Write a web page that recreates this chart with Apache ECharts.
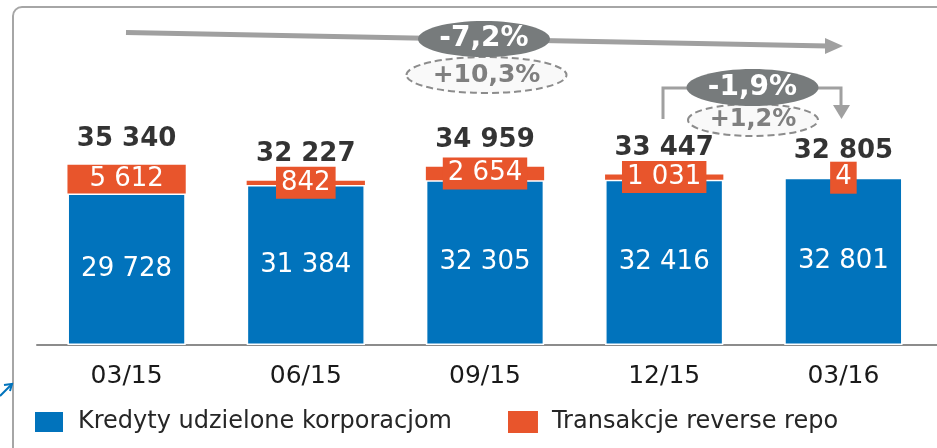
<!DOCTYPE html>
<html>
<head>
<meta charset="utf-8">
<script src="https://cdn.jsdelivr.net/npm/echarts@6/dist/echarts.min.js"></script>
<style>
  html, body { margin: 0; padding: 0; background: #fff; }
  #chart { width: 937px; height: 448px; }
</style>
</head>
<body>
<div id="chart"></div>
<script>
// dane z wykresu
var categories = ['03/15', '06/15', '09/15', '12/15', '03/16'];
var kredyty = [29728, 31384, 32305, 32416, 32801];
var repo = [5612, 842, 2654, 1031, 4];
var totals = [35340, 32227, 34959, 33447, 32805];
var seriesNames = ['Kredyty udzielone korporacjom', 'Transakcje reverse repo'];

var BLUE = '#0173bc';
var ORANGE = '#e8552c';
var GREY_LINE = '#a0a0a0';
var FONT = 'DejaVu Sans, Verdana, sans-serif';

function fmt(v) {
    // spacja jako separator tysiecy
    return String(v).replace(/\B(?=(\d{3})+(?!\d))/g, ' ');
}

var chart = echarts.init(document.getElementById('chart'));

// dla wysokich segmentow etykieta bez tla (mieści się w słupku)
var repoData = repo.map(function (v) {
    return {
        value: v,
        label: v * 255 / 50000 > 28 ? { backgroundColor: 'transparent' } : {}
    };
});

function badge(cx, cy, rx, ry, text, dashed, size) {
    return [{
        type: 'ellipse',
        shape: { cx: cx, cy: cy, rx: rx, ry: ry },
        style: dashed
            ? { fill: '#f9f9f9', stroke: '#8c8c8c', lineWidth: 2, lineDash: [7, 4] }
            : { fill: '#777b7c' },
        z: 10
    }, {
        type: 'text',
        x: cx, y: cy,
        style: {
            text: text, fill: dashed ? '#7f7f7f' : '#fff',
            font: 'bold ' + size + 'px ' + FONT,
            align: 'center', verticalAlign: 'middle'
        },
        z: 11
    }];
}

var graphics = [
    // ramka slajdu
    { type: 'rect', shape: { x: 13, y: 7, width: 940, height: 460, r: 9 },
      style: { fill: 'none', stroke: '#a6a6a6', lineWidth: 2 }, z: 1 },
    // przedluzenie osi do prawej krawedzi
    { type: 'line', shape: { x1: 930, y1: 345, x2: 937, y2: 345 },
      style: { stroke: '#8c8c8c', lineWidth: 2 }, z: 1 },
    // duza strzalka
    { type: 'line', shape: { x1: 126, y1: 32.5, x2: 828, y2: 46 },
      style: { stroke: GREY_LINE, lineWidth: 5 }, z: 5 },
    { type: 'polygon', shape: { points: [[825, 38], [843, 46], [825, 54]] },
      style: { fill: GREY_LINE }, z: 5 },
    // mala strzalka
    { type: 'polyline', shape: { points: [[663, 119], [663, 88], [700, 88]] },
      style: { stroke: GREY_LINE, lineWidth: 3, fill: null }, z: 5 },
    { type: 'polyline', shape: { points: [[805, 88], [841, 88], [841, 106]] },
      style: { stroke: GREY_LINE, lineWidth: 3, fill: null }, z: 5 },
    { type: 'polygon', shape: { points: [[833, 105], [850, 105], [841.5, 119]] },
      style: { fill: GREY_LINE }, z: 5 },
    // niebieski fragment przy lewej krawedzi
    { type: 'polyline', shape: { points: [[0, 396], [12, 384]] },
      style: { stroke: BLUE, lineWidth: 2, fill: null }, z: 5 },
    { type: 'polyline', shape: { points: [[4, 385], [12, 384], [10, 391]] },
      style: { stroke: BLUE, lineWidth: 2, fill: null }, z: 5 }
]
    .concat(badge(486.5, 75, 80, 18, '+10,3%', true, 25))
    .concat(badge(484, 39, 66, 18, '-7,2%', false, 28))
    .concat(badge(753, 120, 65, 16, '+1,2%', true, 24))
    .concat(badge(752.5, 87.5, 66, 18.5, '-1,9%', false, 28));

var option = {
    animation: false,
    textStyle: { fontFamily: FONT },
    color: [BLUE, ORANGE],
    grid: { left: 37, right: 4, top: 90, bottom: 103 },
    legend: {
        left: 28,
        top: 405,
        itemWidth: 30,
        itemHeight: 22,
        itemGap: 56,
        icon: 'rect',
        data: seriesNames,
        textStyle: { fontSize: 24, color: '#262626', padding: [0, 0, 0, 9] }
    },
    xAxis: {
        type: 'category',
        data: categories,
        axisLine: { lineStyle: { color: '#8c8c8c', width: 2 } },
        axisTick: { show: false },
        axisLabel: { fontSize: 25, color: '#1a1a1a', margin: 19 }
    },
    yAxis: {
        type: 'value',
        min: 0,
        max: 50000,
        show: false,
        splitLine: { show: false }
    },
    series: [
        {
            name: seriesNames[0],
            type: 'bar',
            stack: 'total',
            barWidth: '66%',
            data: kredyty,
            itemStyle: { color: BLUE, borderColor: '#fff', borderWidth: 1.5 },
            label: {
                show: true, position: 'inside',
                color: '#fff', fontSize: 26,
                formatter: function (p) { return fmt(p.value); }
            }
        },
        {
            name: seriesNames[1],
            type: 'bar',
            stack: 'total',
            data: repoData,
            itemStyle: { color: ORANGE },
            label: {
                show: true, position: 'inside',
                color: '#fff', fontSize: 26, lineHeight: 26,
                backgroundColor: ORANGE,
                padding: [3, 5, 3, 5],
                formatter: function (p) { return fmt(p.value); }
            },
            z: 3
        },
        {
            name: 'Suma',
            type: 'scatter',
            data: totals,
            symbolSize: 0,
            label: {
                show: true, position: 'top', distance: 13,
                color: '#000', fontSize: 26, fontWeight: 'bold',
                formatter: function (p) { return fmt(p.value); }
            },
            z: 4
        }
    ],
    graphic: graphics
};

chart.setOption(option);
</script>
</body>
</html>
